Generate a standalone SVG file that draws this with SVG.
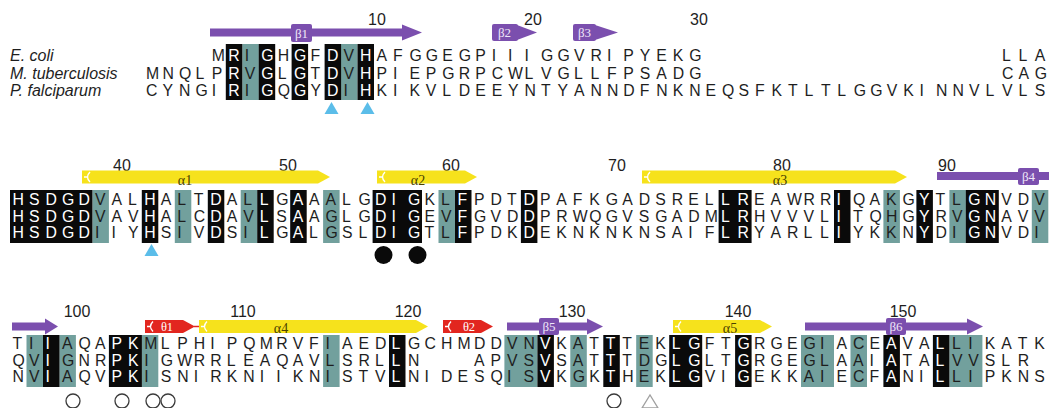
<svg xmlns="http://www.w3.org/2000/svg" width="1049" height="408" viewBox="0 0 1049 408">
<style>
.res{font-family:"Liberation Sans",Arial,sans-serif;font-size:15.8px}
.sp{font-family:"Liberation Sans",Arial,sans-serif;font-size:16px;font-style:italic;fill:#1e1e1e}
.num{font-family:"Liberation Sans",Arial,sans-serif;font-size:16px;fill:#1e1e1e;text-anchor:middle}
.blk{fill:#0a0a0a}
.tl{fill:#72a09d}
.beta{fill:#7b4fae}
.bl{font-family:"Liberation Serif","Times New Roman",serif;font-size:13px;fill:#efe6f8;text-anchor:middle}
.hel{fill:#f6e21c}
.the{fill:#e2261f}
.al{font-family:"Liberation Serif","Times New Roman",serif;font-size:14px;fill:#4a4200;text-anchor:middle}
.tl2{font-family:"Liberation Serif","Times New Roman",serif;font-size:12.5px;fill:#ffffff;text-anchor:middle}
.ring{fill:none;stroke:#ffffff;stroke-width:1.4}
.cyan{fill:#5bbde9}
.dot{fill:#0a0a0a}
.oc{fill:none;stroke:#3a3a3a;stroke-width:1.3}
.ot{fill:none;stroke:#a0a0a0;stroke-width:1.3}
</style>
<defs>
<path id="k1" d="M225.8 44h16.5v56h-16.5z M258.7 44h16.5v56h-16.5z M291.6 44h16.5v56h-16.5z M324.6 44h16.5v56h-16.5z M357.5 44h16.5v56h-16.5z"/>
<path id="k2" d="M10 190h82.4v53h-82.4z M141.8 190h16.5v53h-16.5z M207.8 190h16.5v53h-16.5z M257.2 190h16.5v53h-16.5z M290.2 190h16.5v53h-16.5z M372.6 190h49.4v53h-49.4z M455 190h16.5v53h-16.5z M520.9 190h16.5v53h-16.5z M718.6 190h33v53h-33z M834 190h16.5v53h-16.5z M916.4 190h16.5v53h-16.5z M965.8 190h33v53h-33z"/>
<path id="k3" d="M43 335h16.5v52h-16.5z M108.9 335h33v52h-33z M389 335h16.5v52h-16.5z M537.4 335h16.5v52h-16.5z M603.3 335h16.5v52h-16.5z M669.2 335h33v52h-33z M735.1 335h16.5v52h-16.5z M883.4 335h16.5v52h-16.5z M932.9 335h16.5v52h-16.5z"/>
<clipPath id="kc"><use href="#k1"/><use href="#k2"/><use href="#k3"/></clipPath>
<g id="res" class="res">
<text y="61" x="211.8 228.3 244.8 261.2 277.7 294.1 310.6 327.1 343.5 360 376.4 392.9 409.4 425.8 442.3 458.7 475.2 491.7 508.1 524.6 541 557.5 574 590.4 606.9 623.3 639.8 656.3 672.7 689.2 1001.9 1018.4 1034.8">MRIGHGFDVHAFGGEGPIIIGGVRIPYEKGLLA</text>
<text y="78.5" x="146 162.5 178.9 195.4 211.8 228.3 244.8 261.2 277.7 294.1 310.6 327.1 343.5 360 376.4 392.9 409.4 425.8 442.3 458.7 475.2 491.7 508.1 524.6 541 557.5 574 590.4 606.9 623.3 639.8 656.3 672.7 689.2 1001.9 1018.4 1034.8">MNQLPRVGLGTDVHPIEPGRPCWLVGLLFPSADGCAG</text>
<text y="96" x="146 162.5 178.9 195.4 211.8 228.3 244.8 261.2 277.7 294.1 310.6 327.1 343.5 360 376.4 392.9 409.4 425.8 442.3 458.7 475.2 491.7 508.1 524.6 541 557.5 574 590.4 606.9 623.3 639.8 656.3 672.7 689.2 705.6 722.1 738.6 755 771.5 787.9 804.4 820.9 837.3 853.8 870.2 886.7 903.2 919.6 936.1 952.5 969 985.5 1001.9 1018.4 1034.8">CYNGIRIGQGYDIHKIKVLDEEYNTYANNDFNKNEQSFKTLTLGGVKINNVLVLS</text>
<text y="205" x="12.5 29 45.5 61.9 78.4 94.9 111.4 127.9 144.3 160.8 177.3 193.8 210.3 226.7 243.2 259.7 276.2 292.7 309.1 325.6 342.1 358.6 375.1 391.5 408 424.5 441 457.5 473.9 490.4 506.9 523.4 539.9 556.3 572.8 589.3 605.8 622.3 638.7 655.2 671.7 688.2 704.7 721.1 737.6 754.1 770.6 787.1 803.5 820 836.5 853 869.5 885.9 902.4 918.9 935.4 951.9 968.3 984.8 1001.3 1017.8 1034.3">HSDGDVALHALTDALLGAAALGDIGKLFPDTDPAFKGADSRELLREAWRRIQAKGYTLGNVDV</text>
<text y="221.5" x="12.5 29 45.5 61.9 78.4 94.9 111.4 127.9 144.3 160.8 177.3 193.8 210.3 226.7 243.2 259.7 276.2 292.7 309.1 325.6 342.1 358.6 375.1 391.5 408 424.5 441 457.5 473.9 490.4 506.9 523.4 539.9 556.3 572.8 589.3 605.8 622.3 638.7 655.2 671.7 688.2 704.7 721.1 737.6 754.1 770.6 787.1 803.5 820 836.5 853 869.5 885.9 902.4 918.9 935.4 951.9 968.3 984.8 1001.3 1017.8 1034.3">HSDGDVAVHALCDAVLSAAGLGDIGEVFGVDDPRWQGVSGADMLRHVVVLITQHGYRVGNAVV</text>
<text y="238" x="12.5 29 45.5 61.9 78.4 94.9 111.4 127.9 144.3 160.8 177.3 193.8 210.3 226.7 243.2 259.7 276.2 292.7 309.1 325.6 342.1 358.6 375.1 391.5 408 424.5 441 457.5 473.9 490.4 506.9 523.4 539.9 556.3 572.8 589.3 605.8 622.3 638.7 655.2 671.7 688.2 704.7 721.1 737.6 754.1 770.6 787.1 803.5 820 836.5 853 869.5 885.9 902.4 918.9 935.4 951.9 968.3 984.8 1001.3 1017.8 1034.3">HSDGDIIYHSIVDSILGALGSLDIGTLFPDKDEKNKNKNSAIFLRYARLLIYKKNYDIGNVDI</text>
<text y="349" x="12.5 29 45.5 61.9 78.4 94.9 111.4 127.9 144.3 160.8 177.3 193.8 210.3 226.7 243.2 259.7 276.2 292.7 309.1 325.6 342.1 358.6 375.1 391.5 408 424.5 441 457.5 473.9 490.4 506.9 523.4 539.9 556.3 572.8 589.3 605.8 622.3 638.7 655.2 671.7 688.2 704.7 721.1 737.6 754.1 770.6 787.1 803.5 820 836.5 853 869.5 885.9 902.4 918.9 935.4 951.9 968.3 984.8 1001.3 1017.8 1034.3">TIIAQAPKMLPHIPQMRVFIAEDLGCHMDDVNVKATTTEKLGFTGRGEGIACEAVALLIKATK</text>
<text y="365.5" x="12.5 29 45.5 61.9 78.4 94.9 111.4 127.9 144.3 160.8 177.3 193.8 210.3 226.7 243.2 259.7 276.2 292.7 309.1 325.6 342.1 358.6 375.1 391.5 408 473.9 490.4 506.9 523.4 539.9 556.3 572.8 589.3 605.8 622.3 638.7 655.2 671.7 688.2 704.7 721.1 737.6 754.1 770.6 787.1 803.5 820 836.5 853 869.5 885.9 902.4 918.9 935.4 951.9 968.3 984.8 1001.3 1017.8">QVIGNRPKIGWRRLEAQAVLSRLLNAPVSVSATTTDGLGLTGRGEGLAAIATALVVSLR</text>
<text y="382" x="12.5 29 45.5 61.9 78.4 94.9 111.4 127.9 144.3 160.8 177.3 193.8 210.3 226.7 243.2 259.7 276.2 292.7 309.1 325.6 342.1 358.6 375.1 391.5 408 424.5 441 457.5 473.9 490.4 506.9 523.4 539.9 556.3 572.8 589.3 605.8 622.3 638.7 655.2 671.7 688.2 704.7 721.1 737.6 754.1 770.6 787.1 803.5 820 836.5 853 869.5 885.9 902.4 918.9 935.4 951.9 968.3 984.8 1001.3 1017.8 1034.3">NVIAQVPKISNIRKNIIKNISTVLNIDESQISVKGKTHEKLGVIGEKKAIECFANILLIPKNS</text>
</g>
</defs>
<rect width="1049" height="408" fill="#ffffff"/>

<g id="shading">
<rect class="tl" x="242.3" y="44" width="16.5" height="56"/>
<rect class="tl" x="341" y="44" width="16.5" height="56"/>
<rect class="tl" x="92.4" y="190" width="16.5" height="53"/>
<rect class="tl" x="174.8" y="190" width="16.5" height="53"/>
<rect class="tl" x="240.7" y="190" width="16.5" height="53"/>
<rect class="tl" x="323.1" y="190" width="16.5" height="53"/>
<rect class="tl" x="438.5" y="190" width="16.5" height="53"/>
<rect class="tl" x="883.4" y="190" width="16.5" height="53"/>
<rect class="tl" x="949.4" y="190" width="16.5" height="53"/>
<rect class="tl" x="1031.8" y="190" width="16.5" height="53"/>
<rect class="tl" x="26.5" y="335" width="16.5" height="52"/>
<rect class="tl" x="59.4" y="335" width="16.5" height="52"/>
<rect class="tl" x="141.8" y="335" width="16.5" height="52"/>
<rect class="tl" x="323.1" y="335" width="16.5" height="52"/>
<rect class="tl" x="504.4" y="335" width="33" height="52"/>
<rect class="tl" x="570.3" y="335" width="16.5" height="52"/>
<rect class="tl" x="636.2" y="335" width="16.5" height="52"/>
<rect class="tl" x="801" y="335" width="33" height="52"/>
<rect class="tl" x="850.5" y="335" width="16.5" height="52"/>
<rect class="tl" x="949.4" y="335" width="33" height="52"/>
<use href="#k1" class="blk"/>
<use href="#k2" class="blk"/>
<use href="#k3" class="blk"/>
</g>

<g id="residues">
<use href="#res" fill="#1e1e1e"/>
<use href="#res" fill="#ffffff" clip-path="url(#kc)"/>
</g>

<g id="species">
<text class="sp" x="10" y="61">E. coli</text>
<text class="sp" x="10" y="78.5">M. tuberculosis</text>
<text class="sp" x="10" y="96">P. falciparum</text>
</g>

<g id="numbers">
<text class="num" x="377" y="25">10</text>
<text class="num" x="533" y="25">20</text>
<text class="num" x="699" y="25">30</text>
<text class="num" x="122" y="171">40</text>
<text class="num" x="288" y="171">50</text>
<text class="num" x="451" y="171">60</text>
<text class="num" x="617" y="171">70</text>
<text class="num" x="782" y="171">80</text>
<text class="num" x="947" y="171">90</text>
<text class="num" x="77" y="317">100</text>
<text class="num" x="243" y="317">110</text>
<text class="num" x="408" y="317">120</text>
<text class="num" x="572" y="317">130</text>
<text class="num" x="738" y="317">140</text>
<text class="num" x="903" y="317">150</text>
</g>

<g id="strands">
<rect class="beta" x="210" y="28.5" width="193" height="8"/>
<polygon class="beta" points="402,24.5 422,32.5 402,40.5"/>
<rect class="beta" x="291" y="24" width="21" height="18" rx="2"/>
<text class="bl" x="301.5" y="37.5">β1</text>
<rect class="beta" x="492" y="24" width="26" height="17" rx="2"/>
<polygon class="beta" points="517,25 537,32.5 517,40"/>
<text class="bl" x="504.5" y="37">β2</text>
<rect class="beta" x="573" y="24" width="23" height="17" rx="2"/>
<polygon class="beta" points="595,25 618,32.5 595,40"/>
<text class="bl" x="584.5" y="37">β3</text>
<rect class="beta" x="937" y="172" width="112" height="8"/>
<rect class="beta" x="1018" y="168" width="21" height="17" rx="2"/>
<text class="bl" x="1028.5" y="181">β4</text>
<rect class="beta" x="12" y="322.5" width="34" height="8"/>
<polygon class="beta" points="45,318.5 58,326.5 45,334.5"/>
<rect class="beta" x="507" y="322.5" width="81" height="8"/>
<polygon class="beta" points="587,318.5 603,326.5 587,334.5"/>
<rect class="beta" x="539" y="318" width="20" height="17" rx="2"/>
<text class="bl" x="549" y="331">β5</text>
<rect class="beta" x="805" y="322.5" width="163" height="8"/>
<polygon class="beta" points="967,318.5 983,326.5 967,334.5"/>
<rect class="beta" x="886" y="318" width="20" height="17" rx="2"/>
<text class="bl" x="896" y="331">β6</text>
</g>

<g id="helices">
<path class="hel" d="M82 170.5H318L330 177L318 183.5H82Z"/>
<path class="ring" d="M90 172Q85 177 90 182M84 177H88"/>
<text class="al" x="185" y="185">α1</text>
<path class="hel" d="M377 170.5H465L477 177L465 183.5H377Z"/>
<path class="ring" d="M385 172Q380 177 385 182M379 177H383"/>
<text class="al" x="418" y="185">α2</text>
<path class="hel" d="M642 170.5H895L907 177L895 183.5H642Z"/>
<path class="ring" d="M650 172Q645 177 650 182M644 177H648"/>
<text class="al" x="780" y="185">α3</text>
<path class="the" d="M145 320H183L195 326.5L183 333H145Z"/>
<path class="ring" d="M153 321.5Q148 326.5 153 331.5M147 326.5H151"/>
<text class="tl2" x="167" y="331">θ1</text>
<path d="M194 326.5H200" stroke="#e2261f" stroke-width="1.5"/>
<path class="hel" d="M199 320H416L428 326.5L416 333H199Z"/>
<path class="ring" d="M207 321.5Q202 326.5 207 331.5M201 326.5H205"/>
<text class="al" x="281" y="333">α4</text>
<path class="the" d="M443 320H481L493 326.5L481 333H443Z"/>
<path class="ring" d="M451 321.5Q446 326.5 451 331.5M445 326.5H449"/>
<text class="tl2" x="469" y="331">θ2</text>
<path class="hel" d="M673 320H760L772 326.5L760 333H673Z"/>
<path class="ring" d="M681 321.5Q676 326.5 681 331.5M675 326.5H679"/>
<text class="al" x="730" y="333">α5</text>
</g>

<g id="markers">
<polygon class="cyan" points="324.5,114 338.5,114 331.5,102"/>
<polygon class="cyan" points="360.5,114 374.5,114 367.5,102"/>
<polygon class="cyan" points="144.5,256 158.5,256 151.5,244"/>
<circle class="dot" cx="383.5" cy="255" r="9"/>
<circle class="dot" cx="417.5" cy="255" r="9"/>
<circle class="oc" cx="73" cy="401" r="7"/>
<circle class="oc" cx="122" cy="401" r="7"/>
<circle class="oc" cx="153" cy="401" r="7"/>
<circle class="oc" cx="168" cy="401" r="7"/>
<circle class="oc" cx="614" cy="401" r="7"/>
<polygon class="ot" points="642,408 658,408 650,395"/>
</g>
</svg>
